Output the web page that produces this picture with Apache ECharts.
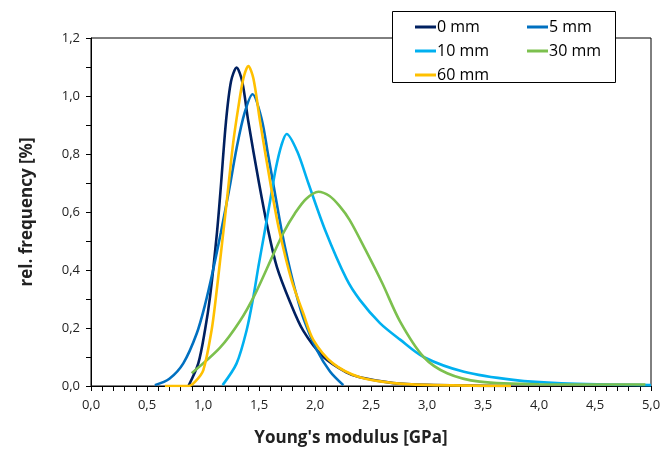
<!DOCTYPE html>
<html>
<head>
<meta charset="utf-8">
<script src="https://cdn.jsdelivr.net/npm/echarts@6/dist/echarts.min.js"></script>
<style>
  html, body { margin: 0; padding: 0; background: #fff; }
  #main { width: 669px; height: 453px; }
</style>
</head>
<body>
<div id="main"></div>
<script>
// x = Young's modulus [GPa], y = rel. frequency [%]
const mm0 = [[0.87,0.0],[0.958,0.078],[1.018,0.193],[1.063,0.308],[1.125,0.53],[1.158,0.681],[1.205,0.911],[1.25,1.05],[1.30,1.098],[1.35,1.05],[1.405,0.911],[1.50,0.70],[1.58,0.54],[1.66,0.41],[1.777,0.29],[1.896,0.19],[2.074,0.101],[2.28,0.047],[2.40,0.03],[2.7,0.01],[3.0,0.004],[3.75,0.0]]
const mm5 = [[0.57,0.003],[0.7,0.025],[0.824,0.078],[0.943,0.18],[1.018,0.28],[1.09,0.40],[1.16,0.53],[1.235,0.68],[1.30,0.82],[1.37,0.94],[1.443,1.006],[1.524,0.92],[1.58,0.80],[1.64,0.67],[1.70,0.54],[1.76,0.43],[1.83,0.32],[1.90,0.23],[2.015,0.125],[2.134,0.05],[2.253,0.003]]
const mm10 = [[1.175,0.003],[1.30,0.078],[1.39,0.193],[1.45,0.308],[1.494,0.41],[1.545,0.52],[1.60,0.64],[1.65,0.75],[1.70,0.83],[1.747,0.869],[1.84,0.81],[1.94,0.70],[2.09,0.538],[2.28,0.37],[2.40,0.297],[2.58,0.217],[2.76,0.16],[2.97,0.10],[3.33,0.049],[3.77,0.021],[4.2,0.009],[5.0,0.003]]
const mm30 = [[0.899,0.044],[1.152,0.132],[1.33,0.224],[1.464,0.316],[1.628,0.454],[1.72,0.53],[1.82,0.595],[1.92,0.645],[2.03,0.67],[2.13,0.655],[2.22,0.62],[2.31,0.572],[2.45,0.47],[2.6,0.355],[2.76,0.222],[2.97,0.10],[3.18,0.044],[3.47,0.015],[4.0,0.006],[4.95,0.005]]
const mm60 = [[0.66,0.0],[0.87,0.0],[0.93,0.015],[1.003,0.055],[1.077,0.193],[1.116,0.308],[1.152,0.43],[1.19,0.56],[1.23,0.70],[1.27,0.84],[1.315,0.96],[1.36,1.06],[1.405,1.103],[1.45,1.06],[1.51,0.911],[1.61,0.681],[1.68,0.538],[1.79,0.366],[1.896,0.25],[1.985,0.159],[2.16,0.078],[2.40,0.03],[2.7,0.01],[3.0,0.004],[3.75,0.0]]

const seriesNames = ['0 mm', '5 mm', '10 mm', '30 mm', '60 mm']
const seriesColors = ['#002060', '#0070C0', '#00B0F0', '#7CC04E', '#FFC000']
const seriesData = [mm0, mm5, mm10, mm30, mm60]

const fmt = v => v.toFixed(1).replace('.', ',')
const font = '"Open Sans", Lato, sans-serif'

let myChart = echarts.init(document.getElementById('main'))

let legendStyle = {
  orient: 'vertical',
  top: 13,
  icon: 'rect',
  itemWidth: 21,
  itemHeight: 3,
  itemGap: 6,
  textStyle: { fontFamily: font, fontSize: 16, color: '#000', lineHeight: 18, padding: [0, 0, 0, -4] },
  z: 10
}

let option = {
  animation: false,
  grid: {
    left: 91, right: 18, top: 38, bottom: 67,
    show: true, borderColor: '#000', borderWidth: 1
  },
  graphic: [{
    type: 'rect', left: 392, top: 11, z: 5,
    shape: { width: 223, height: 71 },
    style: { fill: '#fff', stroke: '#000', lineWidth: 1 }
  }],
  legend: [
    Object.assign({ left: 410, data: ['0 mm', '10 mm', '60 mm'] }, legendStyle),
    Object.assign({ left: 522, data: ['5 mm', '30 mm'] }, legendStyle)
  ],
  xAxis: {
    type: 'value', min: 0, max: 5, interval: 0.5,
    name: "Young's modulus [GPa]", nameLocation: 'middle', nameGap: 44,
    nameTextStyle: { fontFamily: font, fontSize: 17, fontWeight: 'bold', color: '#222', padding: [0, 40, 0, 0] },
    axisLine: { lineStyle: { color: '#000' } },
    axisTick: { show: true, length: 5, lineStyle: { color: '#000' } },
    minorTick: { show: true, splitNumber: 5, length: 5, lineStyle: { color: '#000' } },
    splitLine: { show: false },
    axisLabel: { formatter: fmt, fontFamily: font, fontSize: 13, color: '#222', margin: 13 }
  },
  yAxis: {
    type: 'value', min: 0, max: 1.2, interval: 0.2,
    name: 'rel. frequency [%]', nameLocation: 'middle', nameGap: 55, nameRotate: 90,
    nameTextStyle: { fontFamily: font, fontSize: 17, fontWeight: 'bold', color: '#222' },
    axisLine: { show: true, lineStyle: { color: '#000' } },
    axisTick: { show: true, length: 5, lineStyle: { color: '#000' } },
    minorTick: { show: true, splitNumber: 2, length: 5, lineStyle: { color: '#000' } },
    splitLine: { show: false },
    axisLabel: { formatter: fmt, fontFamily: font, fontSize: 13, color: '#222', margin: 11 }
  },
  series: seriesNames.map((name, i) => ({
    name: name,
    type: 'line',
    data: seriesData[i],
    smooth: 0.3,
    showSymbol: false,
    color: seriesColors[i],
    lineStyle: { width: 2.6, color: seriesColors[i] }
  }))
}
option && myChart.setOption(option)
</script>
</body>
</html>
